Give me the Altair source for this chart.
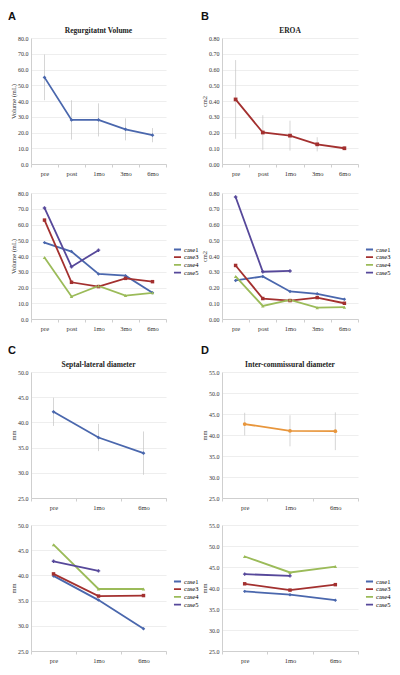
import altair as alt
import pandas as pd

SERIF = "Liberation Serif"
SANS = "Liberation Sans"

# ---------------- data ----------------
cat5 = ["pre", "post", "1mo", "3mo", "6mo"]
cat3 = ["pre", "1mo", "6mo"]
cases = ["case1", "case3", "case4", "case5"]
case_colors = ["#4A67AD", "#A3302F", "#9BBB59", "#56489A"]
case_shapes = ["diamond", "square", "triangle-up", "cross"]

# A: Regurgitant volume (mean, sd)
rv_mean = [55.0, 28.0, 28.0, 22.0, 18.3]
rv_sd = [14.5, 12.5, 10.5, 7.0, 4.5]
rv_ticks = [0, 10, 20, 30, 40, 50, 60, 70, 80]
rv_case1 = [48.5, 42.8, 28.6, 27.5, 16.6]
rv_case3 = [62.8, 23.3, 20.6, 25.8, 23.7]
rv_case4 = [39.0, 14.3, 21.0, 14.9, 16.6]
rv_case5 = [70.5, 33.2, 43.7, None, None]

# B: EROA
eroa_mean = [0.41, 0.20, 0.18, 0.125, 0.10]
eroa_sd = [0.25, 0.11, 0.095, 0.045, 0.012]
eroa_ticks = [0.0, 0.1, 0.2, 0.3, 0.4, 0.5, 0.6, 0.7, 0.8]
eroa_case1 = [0.245, 0.27, 0.175, 0.16, 0.125]
eroa_case3 = [0.34, 0.13, 0.117, 0.136, 0.10]
eroa_case4 = [0.27, 0.083, 0.121, 0.072, 0.075]
eroa_case5 = [0.775, 0.30, 0.305, None, None]

# C: Septal-lateral diameter
sl_mean = [42.1, 37.0, 33.9]
sl_sd = [2.8, 2.7, 4.3]
sl_ticks = [25, 30, 35, 40, 45, 50]
sl_case1 = [39.9, 35.1, 29.4]
sl_case3 = [40.3, 35.9, 36.0]
sl_case4 = [46.1, 37.3, 37.3]
sl_case5 = [42.8, 40.9, None]

# D: Inter-commissural diameter
ic_mean = [42.6, 41.0, 40.9]
ic_sd = [2.7, 3.7, 4.5]
ic_ticks = [25, 30, 35, 40, 45, 50, 55]
ic_case1 = [39.2, 38.4, 37.1]
ic_case3 = [41.0, 39.5, 40.8]
ic_case4 = [47.5, 43.7, 45.1]
ic_case5 = [43.3, 42.9, None]

PW1, PW2, PH = 135, 136, 126


def xenc(cats):
    return alt.X(
        "t:N", sort=cats, title=None,
        scale=alt.Scale(type="band", paddingInner=0, paddingOuter=0),
        axis=alt.Axis(labelAngle=0, tickBand="extent", ticks=True, tickSize=3,
                      tickColor="#CFCFCF", labelPadding=3, labelFontSize=6.5,
                      domainColor="#CFCFCF", grid=False),
    )


def yenc(field, ticks, fmt, ytitle):
    return alt.Y(
        field + ":Q", title=ytitle,
        scale=alt.Scale(domain=[ticks[0], ticks[-1]], nice=False, zero=False),
        axis=alt.Axis(values=ticks, format=fmt, grid=True, ticks=False,
                      labelPadding=3, titlePadding=1, domainColor="#CFCFCF",
                      gridColor="#E6E6E6", gridWidth=0.7),
    )


def mean_panel(cats, means, sds, color, shape, ticks, fmt, ytitle, title,
               letter, width, letter_dx):
    df = pd.DataFrame({
        "t": cats, "m": means,
        "lo": [m - s for m, s in zip(means, sds)],
        "hi": [m + s for m, s in zip(means, sds)],
    })
    base = alt.Chart(df)
    err = base.mark_rule(color="#C4C4C4", strokeWidth=0.7).encode(
        x=xenc(cats), y=yenc("lo", ticks, fmt, ytitle), y2="hi:Q")
    line = base.mark_line(color=color, strokeWidth=1.8).encode(
        x=xenc(cats), y=yenc("m", ticks, fmt, ytitle))
    pts = base.mark_point(filled=True, color=color, shape=shape, size=14,
                          opacity=1).encode(
        x=xenc(cats), y=yenc("m", ticks, fmt, ytitle))
    lab = alt.Chart(pd.DataFrame({"l": [letter]})).mark_text(
        font=SANS, fontSize=11, fontWeight="bold", align="center",
        baseline="middle", color="#111111").encode(
        text="l:N", x=alt.value(letter_dx), y=alt.value(-21))
    ttl = alt.Chart(pd.DataFrame({"l": [title]})).mark_text(
        font=SERIF, fontSize=7.5, fontWeight="bold", align="center",
        baseline="middle", color="#222222").encode(
        text="l:N", x=alt.value(width / 2), y=alt.value(-7))
    return alt.layer(err, line, pts, lab, ttl).properties(width=width, height=PH)


def case_panel(cats, series, ticks, fmt, ytitle, width):
    rows = []
    for name, vals in zip(cases, series):
        for c, v in zip(cats, vals):
            if v is not None:
                rows.append({"case": name, "t": c, "v": v})
    df = pd.DataFrame(rows)
    leg = alt.Legend(title=None, orient="none", legendX=width + 7, legendY=53,
                     symbolType="stroke", symbolStrokeWidth=1.8, symbolSize=50,
                     labelFont=SERIF, labelFontSize=6.5, rowPadding=0.7,
                     clipHeight=7, labelOffset=2, padding=0)
    cscale = alt.Scale(domain=cases, range=case_colors)
    base = alt.Chart(df)
    layers = [base.mark_line(strokeWidth=1.8).encode(
        x=xenc(cats), y=yenc("v", ticks, fmt, ytitle),
        color=alt.Color("case:N", scale=cscale, legend=leg), detail="case:N")]
    for name, col, shp in zip(cases, case_colors, case_shapes):
        layers.append(
            base.transform_filter(alt.datum.case == name).mark_point(
                filled=True, size=12, opacity=1, color=col, shape=shp).encode(
                x=xenc(cats), y=yenc("v", ticks, fmt, ytitle)))
    return alt.layer(*layers).properties(width=width, height=PH)


def indep(c):
    return c.resolve_scale(color="independent",
                           x="independent", y="independent").resolve_legend(
        color="independent")


A_top = mean_panel(cat5, rv_mean, rv_sd, "#4A67AD", "diamond", rv_ticks, ".1f",
                   "Volume (mL)", "Regurgitatnt Volume", "A", PW1, -19)
A_bot = case_panel(cat5, [rv_case1, rv_case3, rv_case4, rv_case5], rv_ticks,
                   ".1f", "Volume (mL)", PW1)
B_top = mean_panel(cat5, eroa_mean, eroa_sd, "#A3302F", "square", eroa_ticks,
                   ".2f", "cm2", "EROA", "B", PW2, -17)
B_bot = case_panel(cat5, [eroa_case1, eroa_case3, eroa_case4, eroa_case5],
                   eroa_ticks, ".2f", "cm2", PW2)
C_top = mean_panel(cat3, sl_mean, sl_sd, "#4A67AD", "diamond", sl_ticks, ".1f",
                   "mm", "Septal-lateral diameter", "C", PW1, -19)
C_bot = case_panel(cat3, [sl_case1, sl_case3, sl_case4, sl_case5], sl_ticks,
                   ".1f", "mm", PW1)
D_top = mean_panel(cat3, ic_mean, ic_sd, "#E8963C", "circle", ic_ticks, ".1f",
                   "mm", "Inter-commissural diameter", "D", PW2, -17)
D_bot = case_panel(cat3, [ic_case1, ic_case3, ic_case4, ic_case5], ic_ticks,
                   ".1f", "mm", PW2)

col1 = indep(alt.vconcat(indep(alt.vconcat(A_top, A_bot, spacing=13)),
                         indep(alt.vconcat(C_top, C_bot, spacing=11)), spacing=13))
col2 = indep(alt.vconcat(indep(alt.vconcat(B_top, B_bot, spacing=13)),
                         indep(alt.vconcat(D_top, D_bot, spacing=11)), spacing=13))

chart = indep(alt.hconcat(col1, col2, spacing=2)).properties(
    padding={"left": 0, "top": 3, "right": 0, "bottom": 0},
    background="white",
).configure_view(stroke=None).configure_axis(
    labelFont=SERIF, labelFontSize=6, labelColor="#333333",
    titleFont=SERIF, titleFontSize=6.5, titleFontWeight="normal",
    titleColor="#333333"
)

chart.save("out.html", embed_options={"renderer": "svg", "actions": False})
